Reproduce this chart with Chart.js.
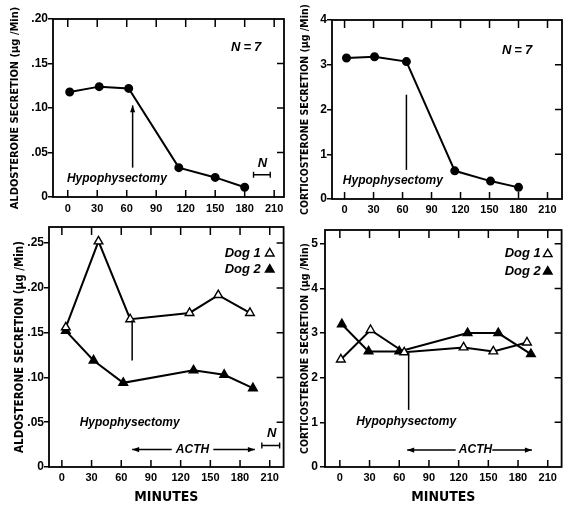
<!DOCTYPE html>
<html><head><meta charset="utf-8">
<script src="https://cdn.jsdelivr.net/npm/chart.js@4.4.1/dist/chart.umd.min.js"></script>
<style>
html,body{margin:0;padding:0;background:#fff;}
#wrap{position:relative;width:568px;height:508px;overflow:hidden;background:#fff;}
canvas{position:absolute;}
</style></head><body>
<div id="wrap">
<canvas id="tl" width="290" height="222" style="left:0;top:0"></canvas>
<canvas id="tr" width="278" height="222" style="left:290px;top:0"></canvas>
<canvas id="bl" width="290" height="296" style="left:0;top:212px"></canvas>
<canvas id="br" width="278" height="296" style="left:290px;top:212px"></canvas>
</div>
<script>
// ---- data ----
const xTicks = [0, 30, 60, 90, 120, 150, 180, 210];
const aldoTicksTop = [0, 0.05, 0.10, 0.15, 0.20];
const corticoTicksTop = [0, 1, 2, 3, 4];
const aldoTicksBottom = [0, 0.05, 0.10, 0.15, 0.20, 0.25];
const corticoTicksBottom = [0, 1, 2, 3, 4, 5];

const aldoMinutes = [2, 32, 62, 113, 150, 180];
const aldoMean = [0.118, 0.124, 0.122, 0.033, 0.022, 0.011];
const corticoMinutes = [2, 31, 64, 114, 151, 180];
const corticoMean = [3.15, 3.18, 3.07, 0.63, 0.40, 0.26];

const aldoDog1Minutes = [4, 37, 69, 129, 158, 190];
const aldoDog1 = [0.156, 0.252, 0.165, 0.172, 0.192, 0.172];
const aldoDog2Minutes = [4, 32, 62, 133, 164, 193];
const aldoDog2 = [0.152, 0.119, 0.094, 0.108, 0.103, 0.088];
const corticoDog1Minutes = [1, 31, 65, 125, 155, 189];
const corticoDog1 = [2.41, 3.07, 2.57, 2.68, 2.59, 2.79];
const corticoDog2Minutes = [2, 29, 60, 129, 160, 193];
const corticoDog2 = [3.20, 2.59, 2.59, 3.00, 3.00, 2.53];

// ---- styles ----
Chart.defaults.color = '#000';
const FAM = '"Liberation Sans", Arial, sans-serif';
const NARROW = '"DejaVu Sans Condensed", sans-serif';
const HYPO_FONT = 'italic bold 12px ' + FAM;
const N_FONT = 'italic bold 13px ' + FAM;
const ACTH_FONT = 'italic bold 12px ' + FAM;
const LEG_FONT = 'italic bold 13px ' + FAM;

function pts(xs, ys) { return xs.map((x, i) => ({x: x, y: ys[i]})); }
function fmtAldo(v) { return v === 0 ? '0' : v.toFixed(2).replace(/^0/, ''); }

function tri(ctx, x, y, r, filled) {
  ctx.beginPath();
  for (let k = 0; k < 3; k++) {
    const a = -Math.PI / 2 + k * 2 * Math.PI / 3;
    const px = x + Math.cos(a) * r, py = y + Math.sin(a) * r;
    if (k === 0) ctx.moveTo(px, py); else ctx.lineTo(px, py);
  }
  ctx.closePath();
  ctx.fillStyle = filled ? '#000' : '#fff'; ctx.fill();
  ctx.lineWidth = 1.4; ctx.strokeStyle = '#000'; ctx.stroke();
}
function head(ctx, x1, y1, x2, y2) {
  const a = Math.atan2(y2 - y1, x2 - x1), L = 7, W = 2.6;
  ctx.beginPath();
  ctx.moveTo(x2, y2);
  ctx.lineTo(x2 - L * Math.cos(a) + W * Math.sin(a), y2 - L * Math.sin(a) - W * Math.cos(a));
  ctx.lineTo(x2 - L * Math.cos(a) - W * Math.sin(a), y2 - L * Math.sin(a) + W * Math.cos(a));
  ctx.closePath(); ctx.fillStyle = '#000'; ctx.fill();
}

const annoPlugin = {
  id: 'anno',
  afterDraw(chart, args, opts) {
    const ctx = chart.ctx, xs = chart.scales.x, ys = chart.scales.y, ca = chart.chartArea;
    ctx.save();
    ctx.strokeStyle = '#000';
    ctx.lineWidth = 1.8;
    ctx.strokeRect(ca.left, ca.top, ca.right - ca.left, ca.bottom - ca.top);
    ctx.lineWidth = 1.5;
    ctx.beginPath();
    for (const v of opts.xTicks) {
      const px = xs.getPixelForValue(v);
      ctx.moveTo(px, ca.bottom); ctx.lineTo(px, ca.bottom - 7);
      ctx.moveTo(px, ca.top); ctx.lineTo(px, ca.top + 8);
    }
    for (const v of opts.rightTicks) {
      const py = ys.getPixelForValue(v);
      ctx.moveTo(ca.right, py); ctx.lineTo(ca.right - 7, py);
    }
    ctx.stroke();
    for (const a of opts.items) {
      if (a.t === 'text') {
        ctx.font = a.font; ctx.fillStyle = '#000';
        ctx.textAlign = a.align || 'center'; ctx.textBaseline = 'middle';
        ctx.letterSpacing = (a.spacing || 0) + 'px';
        ctx.fillText(a.text, xs.getPixelForValue(a.x), ys.getPixelForValue(a.y));
        ctx.letterSpacing = '0px';
      } else if (a.t === 'line' || a.t === 'arrow') {
        const x1 = xs.getPixelForValue(a.x1), y1 = ys.getPixelForValue(a.y1);
        const x2 = xs.getPixelForValue(a.x2), y2 = ys.getPixelForValue(a.y2);
        ctx.lineWidth = 1.5; ctx.strokeStyle = '#000';
        ctx.beginPath(); ctx.moveTo(x1, y1); ctx.lineTo(x2, y2); ctx.stroke();
        if (a.t === 'arrow') head(ctx, x1, y1, x2, y2);
      } else if (a.t === 'bracket') {
        const x1 = xs.getPixelForValue(a.x1), x2 = xs.getPixelForValue(a.x2), y = ys.getPixelForValue(a.y);
        ctx.lineWidth = 1.4; ctx.strokeStyle = '#000';
        ctx.beginPath();
        ctx.moveTo(x1, y); ctx.lineTo(x2, y);
        ctx.moveTo(x1, y - 3); ctx.lineTo(x1, y + 3);
        ctx.moveTo(x2, y - 3); ctx.lineTo(x2, y + 3);
        ctx.stroke();
      } else if (a.t === 'legend') {
        const y = ys.getPixelForValue(a.y);
        ctx.font = LEG_FONT; ctx.fillStyle = '#000';
        ctx.textAlign = 'right'; ctx.textBaseline = 'middle';
        ctx.fillText(a.text, xs.getPixelForValue(a.x), y);
        tri(ctx, xs.getPixelForValue(a.mx), y + 0.5, 5, a.filled);
      }
    }
    ctx.restore();
  }
};

function makePanel(id, cfg) {
  return new Chart(document.getElementById(id), {
    type: 'line',
    data: { datasets: cfg.datasets },
    options: {
      responsive: false, animation: false, devicePixelRatio: 1,
      layout: { padding: cfg.padding },
      plugins: { legend: { display: false }, tooltip: { enabled: false },
        anno: { xTicks: xTicks, rightTicks: cfg.rightTicks, items: cfg.items } },
      scales: {
        x: {
          type: 'linear', min: cfg.xMin, max: cfg.xMax,
          afterBuildTicks: s => { s.ticks = xTicks.map(v => ({value: v})); },
          afterFit: s => { s.height = cfg.xHeight; },
          grid: { display: false, drawTicks: false },
          border: { display: false },
          ticks: { font: { family: FAM, size: 11, weight: 'bold' }, padding: cfg.xPad, maxRotation: 0, callback: v => String(v) },
          title: { display: !!cfg.xTitle, text: cfg.xTitle || '', font: { family: NARROW, size: 14, weight: 'bold' }, padding: { top: 0, bottom: cfg.xTitlePad || 0 } }
        },
        y: {
          type: 'linear', min: 0, max: cfg.yMax,
          afterBuildTicks: s => { s.ticks = cfg.yTicks.map(v => ({value: v})); },
          afterFit: s => { s.width = cfg.yWidth; },
          grid: { display: true, drawOnChartArea: false, drawTicks: true, tickLength: 5, color: '#000', lineWidth: 1.5 },
          border: { display: false },
          ticks: { font: { family: FAM, size: 12, weight: 'bold' }, padding: cfg.yPad, callback: cfg.yFmt },
          title: { display: true, text: cfg.yTitle, font: { family: NARROW, size: cfg.yTitleSize, weight: 'bold' }, padding: { top: cfg.yTitlePad, bottom: 0 } }
        }
      }
    },
    plugins: [annoPlugin]
  });
}

const circleStyle = { borderColor: '#000', borderWidth: 2, pointStyle: 'circle', pointRadius: 3.5,
  pointBackgroundColor: '#000', pointBorderColor: '#000', tension: 0, clip: false };
const openTri = { borderColor: '#000', borderWidth: 2, pointStyle: 'triangle', pointRadius: 5,
  pointBackgroundColor: '#fff', pointBorderColor: '#000', pointBorderWidth: 1.4, tension: 0, clip: false };
const fullTri = { borderColor: '#000', borderWidth: 2, pointStyle: 'triangle', pointRadius: 5,
  pointBackgroundColor: '#000', pointBorderColor: '#000', pointBorderWidth: 1.4, tension: 0, clip: false };

makePanel('tl', {
  datasets: [Object.assign({ label: 'Aldosterone', data: pts(aldoMinutes, aldoMean) }, circleStyle)],
  padding: { left: 0, top: 19, right: 3, bottom: 0 },
  xMin: -15, xMax: 220, xHeight: 25, xPad: 5,
  yMax: 0.20, yTicks: aldoTicksTop, yFmt: fmtAldo, yWidth: 53, yPad: 0,
  yTitle: 'ALDOSTERONE SECRETION (\u03bcg /Min)', yTitleSize: 11, yTitlePad: 9,
  rightTicks: [0.05, 0.10, 0.15],
  items: [
    { t: 'arrow', x1: 66, y1: 0.033, x2: 66, y2: 0.103 },
    { t: 'text', x: 50, y: 0.021, text: 'Hypophysectomy', font: HYPO_FONT },
    { t: 'text', x: 183, y: 0.168, text: 'N=7', font: N_FONT, spacing: 3 },
    { t: 'text', x: 198, y: 0.038, text: 'N', font: N_FONT },
    { t: 'bracket', x1: 189, x2: 206, y: 0.025 }
  ]
});

makePanel('tr', {
  datasets: [Object.assign({ label: 'Corticosterone', data: pts(corticoMinutes, corticoMean) }, circleStyle)],
  padding: { left: 0, top: 20, right: 2, bottom: 0 },
  xMin: -13, xMax: 225, xHeight: 23, xPad: 4,
  yMax: 4, yTicks: corticoTicksTop, yFmt: v => String(v), yWidth: 42, yPad: 0,
  yTitle: 'CORTICOSTERONE SECRETION (\u03bcg /Min)', yTitleSize: 10.5, yTitlePad: 8.5,
  rightTicks: [1, 2, 3],
  items: [
    { t: 'line', x1: 64, y1: 0.65, x2: 64, y2: 2.33 },
    { t: 'text', x: 50, y: 0.42, text: 'Hypophysectomy', font: HYPO_FONT },
    { t: 'text', x: 180, y: 3.33, text: 'N=7', font: N_FONT, spacing: 3 }
  ]
});

makePanel('bl', {
  datasets: [
    Object.assign({ label: 'Dog 1', data: pts(aldoDog1Minutes, aldoDog1) }, openTri),
    Object.assign({ label: 'Dog 2', data: pts(aldoDog2Minutes, aldoDog2) }, fullTri)
  ],
  padding: { left: 0, top: 15, right: 4, bottom: 0 },
  xMin: -13, xMax: 224, xHeight: 41, xPad: 4, xTitle: 'MINUTES', xTitlePad: 2,
  yMax: 0.268, yTicks: aldoTicksBottom, yFmt: fmtAldo, yWidth: 49, yPad: 0,
  yTitle: 'ALDOSTERONE SECRETION (\u03bcg /Min)', yTitleSize: 11.5, yTitlePad: 13,
  rightTicks: [0.05, 0.10, 0.15, 0.20, 0.25],
  items: [
    { t: 'line', x1: 71, y1: 0.164, x2: 71, y2: 0.119 },
    { t: 'text', x: 68.5, y: 0.050, text: 'Hypophysectomy', font: HYPO_FONT },
    { t: 'arrow', x1: 111, y1: 0.0195, x2: 71, y2: 0.0195 },
    { t: 'text', x: 132, y: 0.0195, text: 'ACTH', font: ACTH_FONT },
    { t: 'arrow', x1: 153, y1: 0.0195, x2: 195, y2: 0.0195 },
    { t: 'text', x: 212, y: 0.038, text: 'N', font: N_FONT },
    { t: 'bracket', x1: 202, x2: 220, y: 0.024 },
    { t: 'legend', x: 201, mx: 210, y: 0.239, text: 'Dog 1', filled: false },
    { t: 'legend', x: 201, mx: 210, y: 0.221, text: 'Dog 2', filled: true }
  ]
});

makePanel('br', {
  datasets: [
    Object.assign({ label: 'Dog 1', data: pts(corticoDog1Minutes, corticoDog1) }, openTri),
    Object.assign({ label: 'Dog 2', data: pts(corticoDog2Minutes, corticoDog2) }, fullTri)
  ],
  padding: { left: 0, top: 18, right: 5, bottom: 0 },
  xMin: -15, xMax: 224, xHeight: 41, xPad: 4, xTitle: 'MINUTES', xTitlePad: 2,
  yMax: 5.31, yTicks: corticoTicksBottom, yFmt: v => String(v), yWidth: 35, yPad: 2,
  yTitle: 'CORTICOSTERONE SECRETION (\u03bcg /Min)', yTitleSize: 10.5, yTitlePad: 8.5,
  rightTicks: [1, 2, 3, 4, 5],
  items: [
    { t: 'line', x1: 69.5, y1: 2.56, x2: 69.5, y2: 1.28 },
    { t: 'text', x: 67, y: 1.02, text: 'Hypophysectomy', font: HYPO_FONT },
    { t: 'arrow', x1: 117, y1: 0.38, x2: 68, y2: 0.38 },
    { t: 'text', x: 137, y: 0.38, text: 'ACTH', font: ACTH_FONT },
    { t: 'arrow', x1: 154, y1: 0.38, x2: 194, y2: 0.38 },
    { t: 'legend', x: 203, mx: 210, y: 4.78, text: 'Dog 1', filled: false },
    { t: 'legend', x: 203, mx: 210, y: 4.39, text: 'Dog 2', filled: true }
  ]
});
</script>
</body></html>
